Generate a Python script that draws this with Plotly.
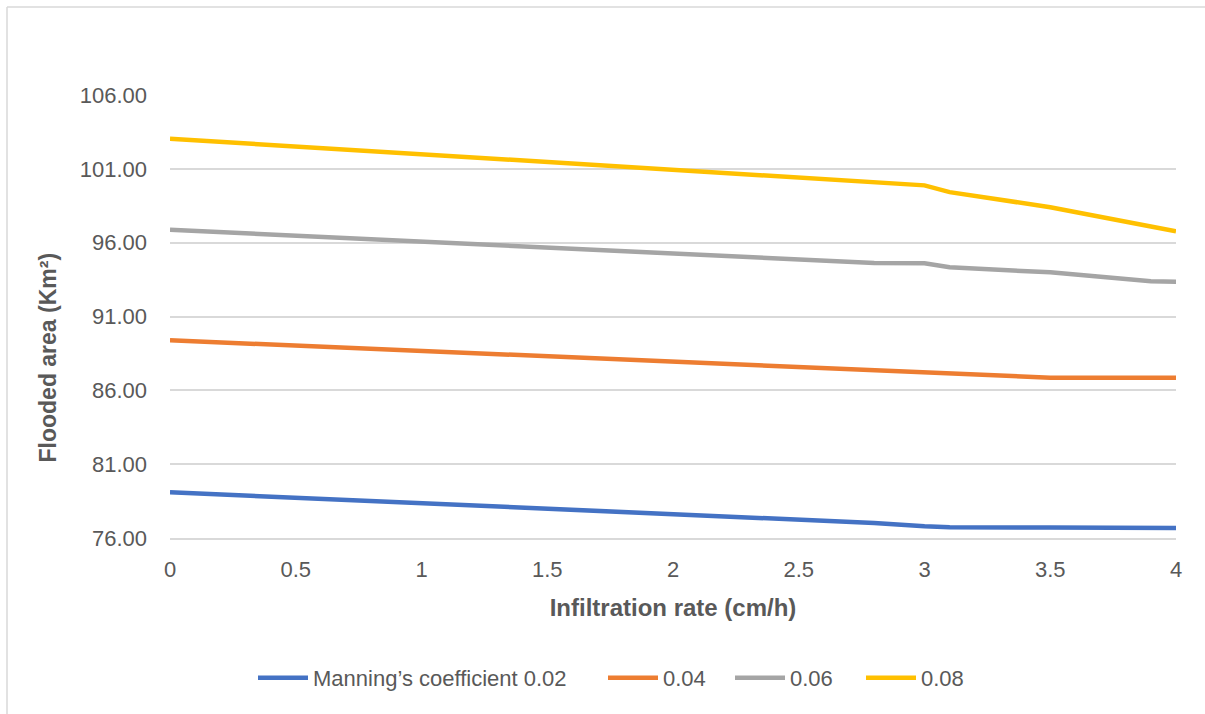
import plotly.graph_objects as go

infiltration = [0, 0.5, 1, 1.5, 2, 2.5, 2.8, 3, 3.1, 3.5, 3.9, 4]
n002 = [79.10, 78.73, 78.36, 77.98, 77.61, 77.24, 77.02, 76.79, 76.72, 76.71, 76.69, 76.68]
n004 = [89.39, 89.03, 88.67, 88.31, 87.95, 87.60, 87.38, 87.24, 87.17, 86.86, 86.86, 86.85]
n006 = [96.88, 96.48, 96.07, 95.67, 95.27, 94.86, 94.62, 94.60, 94.33, 93.99, 93.38, 93.36]
n008 = [103.04, 102.51, 101.97, 101.44, 100.90, 100.37, 100.05, 99.88, 99.42, 98.40, 97.10, 96.77]

series_names = ["Manning\u2019s coefficient 0.02", "0.04", "0.06", "0.08"]
series_values = [n002, n004, n006, n008]
colors = ["#4472C4", "#ED7D31", "#A5A5A5", "#FFC000"]

y_ticks = [76, 81, 86, 91, 96, 101, 106]
x_ticks = [0, 0.5, 1, 1.5, 2, 2.5, 3, 3.5, 4]
x_ticklabels = ["0", "0.5", "1", "1.5", "2", "2.5", "3", "3.5", "4"]

FONT = "Liberation Sans, Arial, sans-serif"
TXT = "#595959"
GRID = "#D9D9D9"

W, H = 1205, 714
L, R, T, B = 170, 29, 95, 176
pw, ph = W - L - R, H - T - B

def px_x(p):
    return (p - L) / pw

def px_y(p):
    return (H - B - p) / ph

legend_ids = ["legend", "legend2", "legend3", "legend4"]
legend_left_px = [253, 603, 730, 861]

fig = go.Figure()
for name, vals, c, lid in zip(series_names, series_values, colors, legend_ids):
    fig.add_trace(go.Scatter(x=infiltration, y=vals, mode="lines", name=name,
                             line=dict(color=c, width=4.5), legend=lid))

legend_layout = {}
for lid, lx in zip(legend_ids, legend_left_px):
    legend_layout[lid] = dict(orientation="h", x=px_x(lx), xanchor="left",
                              y=px_y(678), yanchor="middle",
                              font=dict(size=22, color=TXT, family=FONT), itemwidth=50,
                              bgcolor="rgba(0,0,0,0)")

fig.update_layout(
    width=W, height=H,
    margin=dict(l=L, r=R, t=T, b=B, autoexpand=False),
    paper_bgcolor="white", plot_bgcolor="white",
    font=dict(family=FONT, color=TXT, size=22),
    showlegend=True,
    xaxis=dict(range=[0, 4], tickvals=x_ticks, ticktext=x_ticklabels, showgrid=False,
               zeroline=False, showline=True, linecolor=GRID, linewidth=1.5,
               ticks="", tickfont=dict(size=22, color=TXT), ticklabelstandoff=11,
               title=dict(text="<b>Infiltration rate (cm/h)</b>", font=dict(size=24, color=TXT), standoff=18)),
    yaxis=dict(range=[76, 106], tickvals=y_ticks, tickformat=".2f", showgrid=True,
               gridcolor=GRID, gridwidth=1.5, zeroline=False, showline=False,
               ticks="", tickfont=dict(size=22, color=TXT), ticklabelstandoff=22),
    annotations=[
        dict(text="<b>Flooded area (Km\u00b2)</b>", xref="paper", yref="paper",
             x=px_x(47), y=px_y(357.5), xanchor="center", yanchor="middle",
             textangle=-90, showarrow=False, font=dict(size=23, color=TXT, family=FONT)),
    ],
    shapes=[
        dict(type="line", xref="paper", yref="paper", x0=px_x(7), x1=px_x(1210),
             y0=px_y(7), y1=px_y(7), line=dict(color=GRID, width=1.5)),
        dict(type="line", xref="paper", yref="paper", x0=px_x(7), x1=px_x(7),
             y0=px_y(7), y1=px_y(720), line=dict(color=GRID, width=1.5)),
    ],
    **legend_layout,
)

fig.write_html("out.html")
